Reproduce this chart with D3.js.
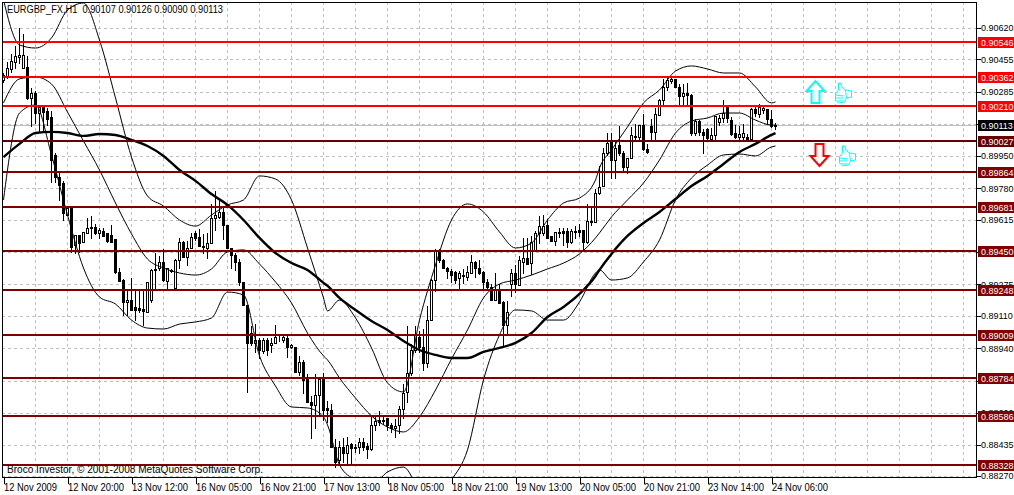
<!DOCTYPE html>
<html lang="en">
<head>
<meta charset="UTF-8">
<title>EURGBP_FX,H1</title>
<script src="https://d3js.org/d3.v7.min.js"></script>
<style>
  html, body { margin: 0; padding: 0; background: #fff; overflow: hidden; }
  svg { display: block; }
  text { font-family: "Liberation Sans", Arial, sans-serif; font-size: 10px; fill: #000; }
  .axis path { display: none; }
  .axis line { stroke: #000; shape-rendering: crispEdges; }
  .grid { stroke: #c0c0c0; stroke-dasharray: 3 3; shape-rendering: crispEdges; }
  .band { fill: none; stroke: #000; stroke-width: 1; }
  .ma { fill: none; stroke: #000; stroke-width: 2.4; }
</style>
</head>
<body>
<svg id="chart" width="1014" height="495"></svg>
<script>
// prices are in points, price x 100000
const symbolTitle = "EURGBP_FX,H1";
const copyright = "Broco Investor, \u00A9 2001-2008 MetaQuotes Software Corp.";
const bidPrice = 90113;

const timeLabels = ["12 Nov 2009", "12 Nov 20:00", "13 Nov 12:00", "16 Nov 05:00", "16 Nov 21:00",
  "17 Nov 13:00", "18 Nov 05:00", "18 Nov 21:00", "19 Nov 13:00", "20 Nov 05:00", "20 Nov 21:00",
  "23 Nov 14:00", "24 Nov 06:00"];
const priceTicks = [90620, 90455, 90285, 90115, 89950, 89780, 89615, 89445, 89275, 89110, 88940, 88770, 88600, 88435, 88270];
// these tick labels sit fully under a price box, so only the tick shows
const coveredTicks = [90115, 89445, 88770];

const resistLevels = [90546, 90362, 90210];
const pivotLevels = [90027];
const supportLevels = [89864, 89681, 89450, 89248, 89009, 88784, 88586, 88328];

// open, high, low, close per hourly bar
const candles = [
  [90347,90389,90337,90373],[90363,90447,90358,90410],[90405,90489,90390,90447],[90442,90531,90410,90473],
  [90468,90625,90436,90479],[90410,90594,90410,90479],[90416,90479,90248,90253],[90253,90310,90106,90279],
  [90279,90295,90121,90174],[90174,90216,90075,90206],[90206,90221,90085,90179],[90185,90206,90111,90143],
  [90153,90190,89812,89928],[89954,89970,89812,89839],[89839,89865,89718,89797],[89807,89823,89613,89649],
  [89639,89681,89639,89676],[89681,89692,89445,89471],[89482,89540,89440,89534],[89534,89540,89445,89492],
  [89498,89550,89498,89550],[89545,89629,89545,89571],[89576,89639,89519,89571],[89576,89597,89540,89545],
  [89545,89576,89519,89560],[89555,89576,89529,89529],[89545,89550,89498,89503],[89534,89592,89498,89498],
  [89513,89519,89335,89340],[89340,89366,89293,89293],[89298,89309,89115,89183],[89183,89251,89115,89193],
  [89193,89314,89141,89141],[89157,89256,89088,89141],[89151,89256,89130,89141],[89146,89246,89062,89136],
  [89130,89293,89130,89288],[89193,89361,89183,89351],[89351,89445,89256,89356],[89361,89429,89351,89392],
  [89392,89466,89293,89298],[89293,89361,89256,89361],[89351,89361,89340,89345],[89256,89413,89256,89403],
  [89403,89524,89361,89498],[89498,89508,89419,89419],[89419,89508,89377,89466],[89466,89550,89466,89524],
  [89545,89560,89508,89519],[89524,89571,89477,89477],[89477,89545,89440,89471],[89466,89550,89414,89492],
  [89492,89702,89492,89623],[89623,89770,89560,89639],[89629,89728,89623,89655],[89655,89692,89513,89587],
  [89587,89592,89466,89466],[89466,89466,89361,89429],[89429,89445,89351,89392],[89392,89413,89272,89288],
  [89288,89288,89167,89167],[89167,89167,88711,88968],[89020,89062,88957,88968],[88968,89073,88921,88984],
  [88984,89000,88889,88931],[88926,89000,88915,88984],[88984,89000,88905,88931],[88957,89000,88921,88968],
  [88968,89067,88968,89000],[89000,89020,88979,89000],[88984,89015,88974,89000],[88994,89015,88895,88947],
  [88947,88968,88942,88957],[88947,88952,88816,88816],[88816,88905,88800,88869],[88869,88884,88705,88774],
  [88784,88810,88659,88659],[88659,88695,88470,88643],[88643,88810,88522,88695],[88695,88784,88590,88779],
  [88779,88816,88564,88616],[88627,88669,88553,88616],[88616,88653,88422,88422],[88422,88470,88317,88344],
  [88354,88459,88328,88422],[88422,88475,88344,88391],[88391,88480,88333,88433],[88438,88449,88338,88417],
  [88422,88443,88396,88417],[88422,88475,88391,88449],[88449,88475,88407,88422],[88428,88449,88365,88412],
  [88412,88585,88407,88538],[88538,88585,88512,88559],[88564,88616,88538,88553],[88564,88585,88543,88559],
  [88574,88574,88512,88538],[88538,88553,88501,88522],[88522,88574,88475,88533],[88538,88643,88496,88621],
  [88621,88758,88574,88705],[88711,89062,88659,88810],[88810,88968,88800,88931],[88931,89062,88921,89010],
  [89000,89036,88921,88947],[88947,89047,88826,88863],[88863,89167,88842,89088],[89088,89309,89088,89298],
  [89298,89466,89241,89450],[89445,89466,89392,89403],[89403,89413,89361,89361],[89361,89371,89309,89345],
  [89345,89361,89288,89324],[89340,89351,89282,89298],[89309,89351,89256,89335],[89324,89361,89282,89319],
  [89314,89377,89298,89340],[89335,89435,89335,89392],[89392,89403,89314,89361],[89361,89408,89330,89335],
  [89340,89351,89256,89288],[89288,89309,89246,89262],[89262,89282,89193,89193],[89193,89340,89193,89246],
  [89246,89282,89177,89177],[89183,89193,88957,89062],[89062,89193,89010,89130],[89277,89361,89214,89335],
  [89335,89382,89235,89277],[89272,89429,89272,89403],[89392,89524,89335,89413],[89413,89524,89382,89382],
  [89387,89534,89330,89498],[89456,89560,89450,89545],[89545,89639,89492,89581],[89545,89644,89534,89581],
  [89587,89623,89519,89519],[89529,89534,89503,89503],[89503,89550,89482,89550],[89550,89576,89524,89545],
  [89555,89576,89482,89545],[89555,89576,89471,89498],[89498,89571,89492,89555],[89555,89587,89519,89552],
  [89560,89597,89529,89550],[89560,89565,89456,89498],[89498,89702,89492,89608],[89608,89692,89587,89602],
  [89602,89781,89602,89755],[89755,89901,89749,89786],[89791,89996,89791,89964],[89964,90075,89954,90017],
  [90022,90075,89833,89928],[89928,90033,89833,89991],[90006,90111,89954,89964],[89964,89980,89865,89891],
  [89891,89944,89860,89938],[89938,90106,89938,90059],[90048,90121,90038,90054],[90048,90111,90033,90111],
  [90111,90174,89980,89986],[89986,90017,89964,89970],[90106,90148,90033,90075],[90075,90206,90033,90169],
  [90164,90253,90164,90242],[90242,90358,90216,90310],[90310,90368,90295,90347],[90342,90373,90331,90352],
  [90352,90358,90310,90310],[90310,90331,90216,90263],[90263,90331,90221,90279],[90279,90337,90216,90269],
  [90269,90279,90059,90069],[90069,90148,90059,90132],[90132,90143,90059,90075],[90075,90096,89964,90059],
  [90090,90101,90038,90043],[90038,90101,90033,90059],[90059,90164,90038,90158],[90127,90169,90111,90148],
  [90148,90248,90127,90174],[90206,90216,90127,90148],[90137,90158,90059,90064],[90069,90116,90043,90048],
  [90048,90111,90038,90064],[90048,90121,90038,90069],[90048,90069,90027,90038],[90038,90206,90033,90195],
  [90195,90221,90158,90174],[90169,90226,90153,90206],[90190,90211,90174,90200],[90195,90200,90116,90143],
  [90143,90195,90101,90106],[90107,90126,90090,90113]
];

const lineBars = [0,4,8,12,16,20,24,28,32,36,40,44,48,52,56,60,64,68,72,76,80,81,84,88,92,96,100,
  104,108,112,116,120,124,128,132,136,140,144,148,149,152,156,160,164,168,172,176,180,184,188,192,193];
const upperBand = [90767,90531,90515,90568,90714,90751,90557,90253,89943,89739,89686,89613,89581,89639,89692,89718,89844,
  89828,89718,89466,89204,89136,89193,89099,88942,88758,88711,89088,89377,89613,89697,89655,89550,89466,89492,89613,
  89702,89728,89823,89886,89980,90101,90227,90295,90394,90421,90405,90384,90384,90311,90227,90232];
const middleBand = [90227,90353,90363,90326,90179,90027,89875,89702,89540,89408,89361,89335,89324,89356,89445,89456,89382,
  89288,89178,89020,88900,88879,88784,88679,88585,88527,88501,88580,88721,88884,89036,89204,89277,89298,89324,89356,
  89387,89435,89519,89545,89629,89718,89807,89928,90069,90132,90148,90174,90174,90137,90111,90111];
const lowerBand = [89718,90174,90216,89954,89639,89361,89209,89172,89088,89046,89041,89067,89078,89099,89235,89220,88900,
  88742,88632,88627,88580,88538,88328,88249,88223,88291,88317,88197,88144,88249,88407,88774,89010,89141,89136,89088,
  89088,89183,89335,89351,89298,89309,89393,89508,89718,89833,89901,89954,89959,89949,89996,90001];
const movingAvg = [89943,90012,90069,90075,90069,90054,90064,90059,90033,90001,89949,89875,89818,89749,89692,89613,89519,
  89440,89387,89351,89283,89267,89204,89141,89083,89036,88978,88931,88905,88889,88889,88921,88942,88968,89020,89104,
  89157,89225,89319,89351,89435,89529,89597,89655,89723,89791,89844,89907,89970,90012,90059,90069];

// hand placed objects on the chart: bar, price
const upArrow = [203, 90284];
const downArrow = [204, 89954];
const thumbs = [[210, 90279], [211, 89949]];

const width = 1014, height = 495;
const plotLeft = 2, plotRight = 976, plotTop = 2, plotBottom = 477;

const x = d3.scaleLinear().domain([0, 243]).range([3.5, 975.5]);
const y = d3.scaleLinear().domain([90620, 88270]).range([28, 476]);
const snapY = p => Math.round(y(p)) + 0.5;
const fmt = p => (p / 100000).toFixed(5);

const svg = d3.select("#chart");

svg.append("defs").append("clipPath").attr("id", "plot")
  .append("rect").attr("x", plotLeft).attr("y", plotTop)
  .attr("width", plotRight - plotLeft).attr("height", plotBottom - plotTop);

// grid
const gridBars = d3.range(0, 241, 8).slice(1);
svg.append("g").selectAll("line").data(gridBars).enter().append("line")
  .attr("class", "grid")
  .attr("x1", d => x(d)).attr("x2", d => x(d))
  .attr("y1", plotTop).attr("y2", plotBottom);
svg.append("g").selectAll("line").data(priceTicks).enter().append("line")
  .attr("class", "grid")
  .attr("x1", plotLeft).attr("x2", plotRight)
  .attr("y1", d => snapY(d)).attr("y2", d => snapY(d));

// bid line
svg.append("line")
  .attr("x1", plotLeft).attr("x2", plotRight)
  .attr("y1", snapY(bidPrice)).attr("y2", snapY(bidPrice))
  .attr("stroke", "#c0c0c0").attr("shape-rendering", "crispEdges");

const plot = svg.append("g").attr("clip-path", "url(#plot)");

// candles
const candleG = plot.append("g").attr("shape-rendering", "crispEdges");
candles.forEach((c, i) => {
  const [o, h, l, cl] = c;
  const cx = x(i);
  const bull = cl > o;
  candleG.append("line")
    .attr("x1", cx).attr("x2", cx)
    .attr("y1", snapY(h)).attr("y2", snapY(l) + 0.5)
    .attr("stroke", "#000");
  const top = snapY(Math.max(o, cl)), bottom = snapY(Math.min(o, cl));
  candleG.append("rect")
    .attr("x", cx - 1).attr("width", 2)
    .attr("y", top).attr("height", Math.max(bottom - top, 0))
    .attr("fill", bull ? "#fff" : "#000")
    .attr("stroke", "#000");
});

// bollinger bands + moving average
const line = vals => d3.line()
  .x((d, i) => x(lineBars[i]))
  .y(d => y(d))
  .curve(d3.curveMonotoneX)(vals);
[upperBand, middleBand, lowerBand].forEach(vals => {
  plot.append("path").attr("class", "band").attr("d", line(vals));
});
plot.append("path").attr("class", "ma").attr("d", line(movingAvg));

// price labels have to fit in the space right of the axis
const priceFontSize = "9px";
const priceLabelX = plotRight + 5;

// price axis
const yAxis = d3.axisRight(y).tickValues(priceTicks).tickSize(4).tickPadding(2)
  .tickFormat(d => coveredTicks.includes(d) ? "" : fmt(d));
const yG = svg.append("g").attr("class", "axis").attr("transform", `translate(${plotRight + 0.5},0)`).call(yAxis);
yG.selectAll("text").attr("x", 4.5).style("font-size", priceFontSize);

// time axis
const timeBars = timeLabels.map((d, i) => i * 16);
const xAxis = d3.axisBottom(x).tickValues(timeBars).tickSize(6).tickPadding(2).tickFormat((d, i) => timeLabels[i]);
const xG = svg.append("g").attr("class", "axis").attr("transform", `translate(0,${plotBottom + 0.5})`).call(xAxis);
xG.selectAll("text").attr("text-anchor", "start").attr("x", 0).attr("y", 6).attr("dy", "0.71em")
  .attr("textLength", (d, i) => i === 0 ? 53 : 56).attr("lengthAdjust", "spacingAndGlyphs");

// frame
svg.append("rect")
  .attr("x", plotLeft + 0.5).attr("y", plotTop + 0.5)
  .attr("width", plotRight - plotLeft).attr("height", plotBottom - plotTop)
  .attr("fill", "none").attr("stroke", "#000").attr("shape-rendering", "crispEdges");

// horizontal levels with their price boxes
function drawLevels(levels, color) {
  const g = svg.append("g").attr("shape-rendering", "crispEdges");
  levels.forEach(p => {
    const py = Math.round(y(p));
    g.append("line")
      .attr("x1", plotLeft + 1).attr("x2", plotRight)
      .attr("y1", py).attr("y2", py)
      .attr("stroke", color).attr("stroke-width", 2);
    g.append("rect")
      .attr("x", plotRight + 2).attr("y", py - 5)
      .attr("width", width - plotRight - 2).attr("height", 11)
      .attr("fill", color);
    g.append("text")
      .attr("x", priceLabelX).attr("y", py).attr("dy", "0.4em")
      .style("font-size", priceFontSize)
      .style("fill", "#fff").text(fmt(p));
  });
}
drawLevels(supportLevels, "#800000");
drawLevels(pivotLevels, "#660000");
drawLevels(resistLevels, "#ff0000");

// bid box
svg.append("rect")
  .attr("x", plotRight + 2).attr("y", Math.round(y(bidPrice)) - 5)
  .attr("width", width - plotRight - 2).attr("height", 11).attr("fill", "#000");
svg.append("text")
  .attr("x", priceLabelX).attr("y", Math.round(y(bidPrice))).attr("dy", "0.4em")
  .style("font-size", priceFontSize)
  .style("fill", "#fff").text(fmt(bidPrice));

// arrows
const arrowUp = "M0,-11 L9,-1 L4,-1 L4,11 L-4,11 L-4,-1 L-9,-1 Z";
const arrowDown = "M0,11 L9,1 L4,1 L4,-11 L-4,-11 L-4,1 L-9,1 Z";
svg.append("path").attr("d", arrowUp)
  .attr("transform", `translate(${x(upArrow[0])},${y(upArrow[1])})`)
  .attr("fill", "#fff").attr("stroke", "#00ffff").attr("stroke-width", 2);
svg.append("path").attr("d", arrowDown)
  .attr("transform", `translate(${x(downArrow[0])},${y(downArrow[1])})`)
  .attr("fill", "#fff").attr("stroke", "#ff0000").attr("stroke-width", 2);

// thumbs up glyphs: fingers left, wrist right
const thumbShape = "M-5,-10 L-3,-10 L-1,-5 L2,-3 L8,-2 L8,4 L3,5 L1,9 L-5,10 L-8,7 L-8,1 L-5,-3 Z";
const thumbFingers = "M-8,2 L0,3 M-8,5 L0,5 M-6,8 L0,8 M2,-3 L3,5";
thumbs.forEach(t => {
  const g = svg.append("g").attr("transform", `translate(${x(t[0])},${y(t[1])})`);
  g.append("path").attr("d", thumbShape).attr("fill", "#fff").attr("stroke", "#00ffff");
  g.append("path").attr("d", thumbFingers).attr("fill", "none").attr("stroke", "#00ffff");
});

// title + copyright
const last = candles[candles.length - 1];
svg.append("text").attr("x", 7).attr("y", 13)
  .attr("textLength", 216).attr("lengthAdjust", "spacingAndGlyphs")
  .text(`${symbolTitle}\u00A0\u00A0${last.map(fmt).join(" ")}`);
svg.append("text").attr("x", 7).attr("y", 473)
  .attr("textLength", 256).attr("lengthAdjust", "spacingAndGlyphs")
  .text(copyright);
</script>
</body>
</html>
